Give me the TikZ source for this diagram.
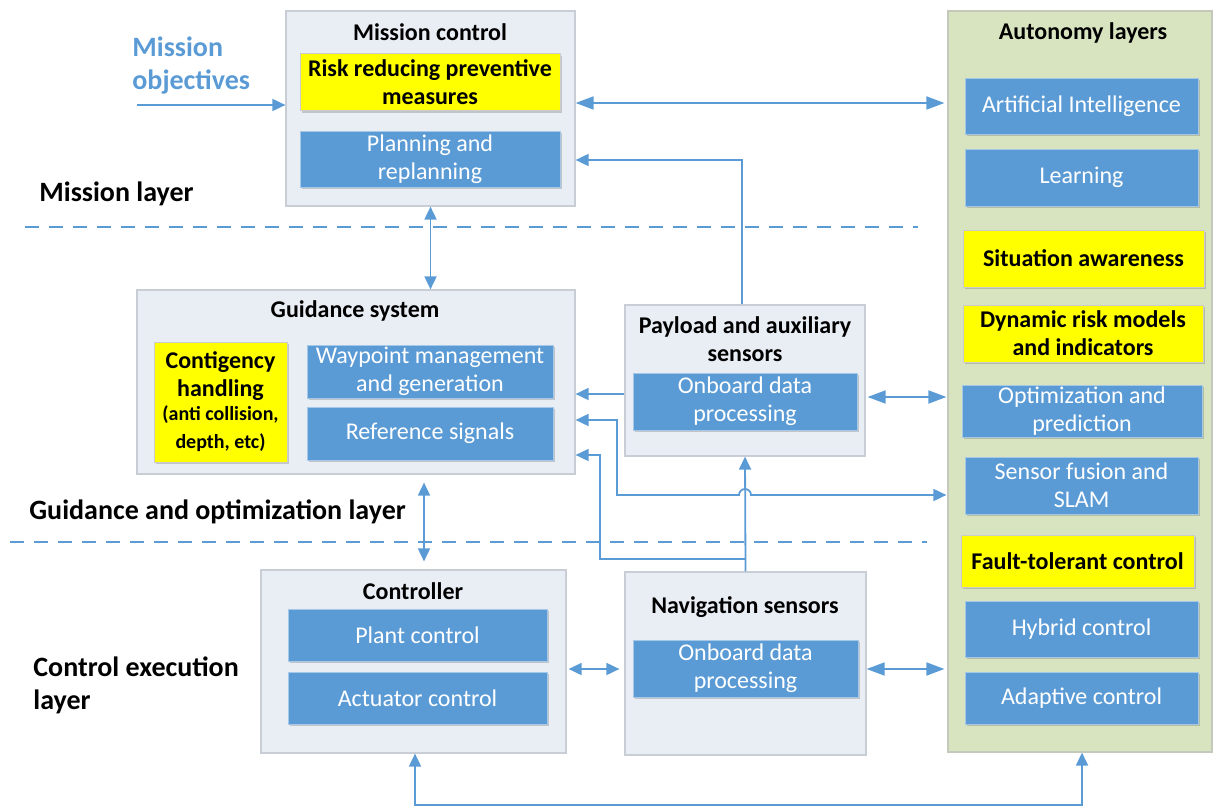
\documentclass[tikz,border=0pt]{standalone}
\usepackage{fontspec}
\setmainfont{Carlito}
\usetikzlibrary{arrows.meta,shadows}
\definecolor{cblue}{HTML}{5B9BD5}
\definecolor{cpanel}{HTML}{E9EDF4}
\definecolor{cpanelb}{HTML}{C9CED6}
\definecolor{cgreen}{HTML}{D8E4BF}
\definecolor{cgreenb}{HTML}{C4C9BC}
\definecolor{cyel}{HTML}{FFFF00}
\newcommand{\smallpar}{\fontsize{10}{12}\selectfont}
\begin{document}
\begin{tikzpicture}[x=0.5pt,y=-0.5pt,
  sz/.style 2 args={minimum width=#1*0.5pt, minimum height=#2*0.5pt},
  panel/.style={draw=cpanelb, line width=0.6pt, fill=cpanel, inner sep=0pt},
  greenpanel/.style={draw=cgreenb, line width=0.6pt, fill=cgreen, inner sep=0pt},
  shad/.style={drop shadow={shadow xshift=1.2pt, shadow yshift=-1.2pt, opacity=0.25, fill=black!70}},
  bluebox/.style={shad, draw=cblue!55!white, line width=0.4pt, fill=cblue, text=white, align=center, inner sep=0pt, font=\fontsize{12}{14}\selectfont},
  yelbox/.style={shad, draw=black!20, line width=0.4pt, fill=cyel, text=black, align=center, inner sep=0pt, font=\fontsize{12}{14}\selectfont\bfseries},
  title/.style={align=center, inner sep=0pt, font=\fontsize{12}{14}\selectfont\bfseries},
  layerlbl/.style={align=left, inner sep=0pt, anchor=west, font=\fontsize{14}{16.5}\selectfont\bfseries},
  conn/.style={draw=cblue, line width=0.9pt, -{Triangle[length=6.5pt,width=6pt]}},
  dbl/.style={draw=cblue, line width=0.9pt, {Triangle[length=9pt,width=6.5pt]}-{Triangle[length=9pt,width=6.5pt]}},
  dbls/.style={draw=cblue, line width=0.9pt, {Triangle[length=6.5pt,width=6pt]}-{Triangle[length=6.5pt,width=6pt]}},
  layerline/.style={draw=cblue, line width=0.9pt, dash pattern=on 7pt off 5pt}
]
\useasboundingbox (0,0) rectangle (1213,807);

% ---------- Mission control ----------
\node[panel, sz={289}{195}] (mc) at (430.5,108.5) {};
\node[title] (mct) at (430,32) {Mission control};
\node[yelbox, sz={260}{57}] (risk) at (430,82) {Risk reducing preventive\\measures};
\node[bluebox, sz={260}{56}] (plan) at (430,159) {Planning and\\replanning};

% ---------- Guidance system ----------
\node[panel, sz={438}{184}] (gs) at (356,382) {};
\node[title] (gst) at (355,311) {Guidance system};
\node[yelbox, sz={133}{120}] (cont) at (220.5,402) {Contigency\\handling\\[-2pt]\smallpar (anti collision,\\\smallpar depth, etc)};
\node[bluebox, sz={246}{53}] (wp) at (430,371.5) {Waypoint management\\and generation};
\node[bluebox, sz={246}{53}] (ref) at (430,433.5) {Reference signals};

% ---------- Payload ----------
\node[panel, sz={240}{151}] (pay) at (745,380.5) {};
\node[title] (payt) at (745,339) {Payload and auxiliary\\sensors};
\node[bluebox, sz={224}{57}] (pob) at (745,401.5) {Onboard data\\processing};

% ---------- Controller ----------
\node[panel, sz={305}{183}] (ctl) at (413.5,661.5) {};
\node[title] (ctlt) at (413,591) {Controller};
\node[bluebox, sz={259}{52}] (plant) at (417.5,635) {Plant control};
\node[bluebox, sz={259}{52}] (act) at (417.5,698) {Actuator control};

% ---------- Navigation ----------
\node[panel, sz={241}{183}] (nav) at (745.5,663.5) {};
\node[title] (navt) at (745,607) {Navigation sensors};
\node[bluebox, sz={225}{57}] (nob) at (745.5,668.5) {Onboard data\\processing};

% ---------- Autonomy layers ----------
\node[greenpanel, sz={264}{741}] (auto) at (1080,381.5) {};
\node[title] (autot) at (1083,33) {Autonomy layers};
\node[bluebox, sz={233}{56}] (ai) at (1081.5,106) {Artificial Intelligence};
\node[bluebox, sz={233}{57}] (learn) at (1081.5,177.5) {Learning};
\node[yelbox, sz={241}{57}] (sa) at (1083.5,258.5) {Situation awareness};
\node[yelbox, sz={240}{57}] (dr) at (1083,333.5) {Dynamic risk models\\and indicators};
\node[bluebox, sz={240}{52}] (opt) at (1082,411) {Optimization and\\prediction};
\node[bluebox, sz={233}{57}] (sf) at (1081.5,485.5) {Sensor fusion and\\SLAM};
\node[yelbox, sz={233}{52}] (ft) at (1077.5,561) {Fault-tolerant control};
\node[bluebox, sz={233}{56}] (hyb) at (1081.5,629) {Hybrid control};
\node[bluebox, sz={233}{52}] (adp) at (1081.5,698) {Adaptive control};

% ---------- Labels ----------
\node[layerlbl, text=cblue] (mobj) at (132,66) {Mission\\objectives};
\node[layerlbl] (ml) at (39,194) {Mission layer};
\node[layerlbl] (gl) at (29,512) {Guidance and optimization layer};
\node[layerlbl] (cl) at (33,685) {Control execution\\layer};

% ---------- Layer separators ----------
\coordinate (d1a) at (25,227);
\coordinate (d1b) at (918,227);
\coordinate (d2a) at (10,542);
\coordinate (d2b) at (927,542);
\draw[layerline] (d1a) -- (d1b);
\draw[layerline] (d2a) -- (d2b);

% ---------- Connectors ----------
\coordinate (mo) at (137,105);
\draw[conn] (mo) -- (mo -| mc.west);
\draw[dbl] (mc.east |- 0,103) -- ([xshift=-1.5pt]auto.west |- 0,103);
\draw[conn] (pay.north -| 742,0) |- (mc.east |- 0,160);
\draw[dbls] (mc.south) -- (mc.south |- gs.north);
\draw[conn] (pay.west |- 0,394) -- (gs.east |- 0,394);
\draw[dbl] ([xshift=1pt]pay.east |- 0,397) -- ([xshift=-0.5pt]auto.west |- 0,397);
\draw[dbls] (gs.east |- 0,420) -- (617,420) -- (617,495) -- (739,495)
   arc[start angle=180, end angle=0, radius=3pt] -- ([xshift=-0.5pt]auto.west |- 0,495);
\draw[conn] (nav.north) -- (pay.south);
\draw[conn] (745,559) -- (600,559) -- (600,455) -- (gs.east |- 0,455);
\draw[dbls, shorten <=4pt, shorten >=4pt] (424,0 |- gs.south) -- (424,0 |- ctl.north);
\draw[dbls, shorten <=1pt, shorten >=2.5pt] (ctl.east |- 0,669) -- (nav.west |- 0,669);
\draw[dbl] (nav.east |- 0,669) -- ([xshift=-1.5pt]auto.west |- 0,669);
\draw[dbls] (415,0 |- ctl.south) -- (415,805) -| (1082,0 |- auto.south);
\end{tikzpicture}
\end{document}
